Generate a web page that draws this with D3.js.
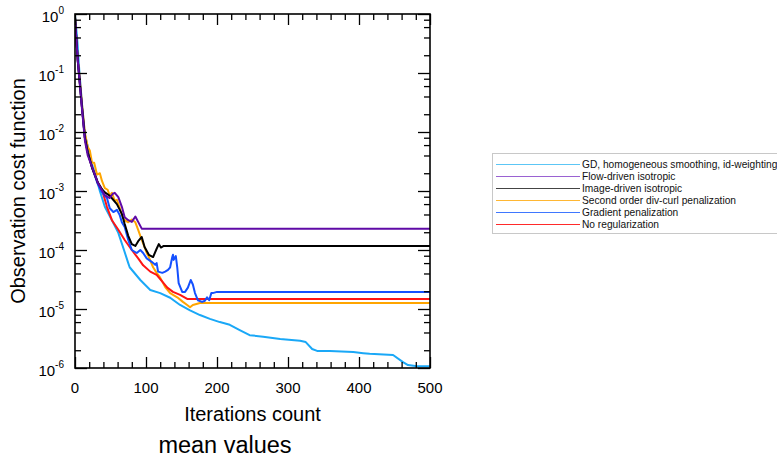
<!DOCTYPE html>
<html><head><meta charset="utf-8">
<script src="https://cdn.jsdelivr.net/npm/d3@7"></script>
<style>
html,body{margin:0;padding:0;background:#fff;}
svg{display:block;}
text{font-family:"Liberation Sans",Arial,sans-serif;}
</style></head>
<body>
<svg id="c" width="777" height="457"></svg>
<script>
// ---- data ----
const seriesNames = [
  "GD, homogeneous smoothing, id-weighting",
  "Flow-driven isotropic",
  "Image-driven isotropic",
  "Second order div-curl penalization",
  "Gradient penalization",
  "No regularization"
];
const seriesColors = ["#1aa8f7","#5f0aa6","#000000","#ffa500","#1450ff","#ff1414"];
const legendColors = ["#5cc6f5","#9a62d2","#444444","#ffb733","#3f77ff","#ff2a2a"];

const gdIter = [0,3,6,10,14,18,24,28,35,42,52,61,69,75,77,92,106,120,134,148,162,176,190,204,218,232,246,265,289,317,325,334,341,359,392,406,415,448,462,469,482,500];
const gdVal  = [0.93,0.40,0.112,0.0282,0.0089,0.0056,0.0028,0.00204,0.001,5.4e-4,3.2e-4,1.95e-4,1e-4,6.0e-5,5.1e-5,3.1e-5,2.1e-5,1.86e-5,1.55e-5,1.17e-5,9.5e-6,7.9e-6,6.8e-6,6.0e-6,5.4e-6,4.4e-6,3.6e-6,3.4e-6,3.1e-6,2.9e-6,2.75e-6,2.1e-6,1.95e-6,1.95e-6,1.86e-6,1.78e-6,1.74e-6,1.66e-6,1.26e-6,1.12e-6,1.07e-6,1.07e-6];

const flowIter = [0,2,4,6,10,14,18,24,32,42,49,53,56,61,66,70,75,80,85,89,94,500];
const flowVal  = [0.79,0.355,0.158,0.085,0.0234,0.0071,0.0040,0.00257,0.00138,8.5e-4,7.6e-4,8.9e-4,9.3e-4,7.9e-4,5.4e-4,3.6e-4,3.2e-4,3.0e-4,3.7e-4,3.0e-4,2.3e-4,2.3e-4];

const imgIter = [0,2,4,6,10,14,18,24,32,38,42,49,59,66,70,75,80,85,89,94,98,104,110,115,118,121,125,500];
const imgVal  = [0.89,0.355,0.158,0.085,0.025,0.0079,0.0045,0.0025,0.0014,0.00107,9.5e-4,8.3e-4,6.0e-4,4.1e-4,2.75e-4,1.74e-4,1.26e-4,1.17e-4,1.41e-4,1.66e-4,1.12e-4,8.3e-5,7.6e-5,1.05e-4,1.26e-4,1.1e-4,1.17e-4,1.17e-4];

const divIter = [0,2,4,6,10,14,18,21,24,27,31,35,38,42,46,49,52,56,59,63,66,70,75,80,85,89,94,98,101,104,110,115,120,127,134,144,152,158,162,166,176,500];
const divVal  = [0.89,0.355,0.166,0.1,0.0282,0.0095,0.0056,0.0048,0.0030,0.0030,0.0019,0.0020,0.00148,0.00112,0.00105,8.3e-4,9.3e-4,6.8e-4,7.1e-4,5.2e-4,3.9e-4,3.2e-4,2.95e-4,3.3e-4,2.95e-4,2.2e-4,1.48e-4,1.12e-4,8.9e-5,7.6e-5,5.1e-5,4.1e-5,3.4e-5,2.35e-5,1.86e-5,1.58e-5,1.32e-5,1.17e-5,1.07e-5,1.17e-5,1.26e-5,1.26e-5];

const gradIter = [0,2,4,6,10,14,18,24,32,38,45,49,54,59,63,66,70,75,80,87,92,96,101,108,113,115,117,123,127,131,134,137,138,139,142,144,146,151,155,159,163,166,169,173,179,183,186,189,192,194,200,500];
const gradVal  = [0.89,0.355,0.158,0.089,0.025,0.0079,0.0045,0.0025,0.00132,9.5e-4,7.6e-4,5.1e-4,4.4e-4,4.8e-4,3.9e-4,2.95e-4,2.45e-4,1.48e-4,1e-4,8.9e-5,1e-4,8.9e-5,7.2e-5,6.3e-5,5.6e-5,6.0e-5,4.3e-5,4.1e-5,4.3e-5,4.6e-5,5.1e-5,7.6e-5,8.3e-5,6.8e-5,7.9e-5,5.1e-5,2.75e-5,1.95e-5,1.95e-5,2.3e-5,3.1e-5,2.6e-5,1.86e-5,1.41e-5,1.32e-5,1.38e-5,1.58e-5,1.41e-5,1.86e-5,1.86e-5,1.95e-5,1.95e-5];

const noregIter = [0,2,4,6,10,14,18,24,32,38,45,52,61,70,80,89,96,106,115,123,130,138,148,158,500];
const noregVal  = [0.89,0.355,0.158,0.089,0.025,0.0079,0.0045,0.0025,0.0014,0.00105,5.4e-4,3.2e-4,2.2e-4,1.48e-4,1e-4,7.2e-5,5.5e-5,4.3e-5,3.8e-5,2.9e-5,2.3e-5,1.95e-5,1.74e-5,1.48e-5,1.48e-5];

const xTickValues = [0,100,200,300,400,500];
const yTickExponents = [0,-1,-2,-3,-4,-5,-6];
const xTitle = "Iterations count";
const yTitle = "Observation cost function";
const caption = "mean values";

// ---- layout ----
const L = 75, T = 14, W = 355, H = 354;
const svg = d3.select("#c");
const x = d3.scaleLinear().domain([0,500]).range([L, L+W]);
const y = d3.scaleLog().domain([1e-6,1]).range([T+H, T]);

const series = seriesNames.map((n,i)=>({name:n, color:seriesColors[i], lcolor:legendColors[i]}));
series[0].it = gdIter;   series[0].v = gdVal;
series[1].it = flowIter; series[1].v = flowVal;
series[2].it = imgIter;  series[2].v = imgVal;
series[3].it = divIter;  series[3].v = divVal;
series[4].it = gradIter; series[4].v = gradVal;
series[5].it = noregIter;series[5].v = noregVal;
const drawOrder = [0,3,5,4,2,1];

svg.append("clipPath").attr("id","clip").append("rect")
  .attr("x",L).attr("y",T).attr("width",W).attr("height",H);

const line = d3.line().x(d=>x(d[0])).y(d=>y(d[1]));
const g = svg.append("g").attr("clip-path","url(#clip)");
drawOrder.forEach(i=>{
  const s = series[i];
  g.append("path").datum(s.it.map((t,k)=>[t,s.v[k]]))
    .attr("d",line).attr("fill","none").attr("stroke",s.color)
    .attr("stroke-width",2).attr("stroke-linejoin","round");
});

// ---- axes ----
const xMinor = d3.range(0,501,20);
const yMinor = [];
yTickExponents.forEach(e=>{ if(e>-6){ [2,4,6,8].forEach(m=>yMinor.push(m*Math.pow(10,e-1))); } });
const yMajor = yTickExponents.map(e=>Math.pow(10,e));

function isMajorX(d){ return xTickValues.includes(d); }

const axBottom = svg.append("g").attr("transform",`translate(0,${T+H})`)
  .call(d3.axisBottom(x).tickValues(xMinor).tickSizeOuter(0).tickFormat(""));
axBottom.selectAll(".tick line").attr("y2", d=>isMajorX(d)?-11:-6);
axBottom.select(".domain").remove();

const axTop = svg.append("g").attr("transform",`translate(0,${T})`)
  .call(d3.axisTop(x).tickValues(xMinor).tickSizeOuter(0).tickFormat(""));
axTop.selectAll(".tick line").attr("y2", d=>isMajorX(d)?11:6);
axTop.select(".domain").remove();

const axLeft = svg.append("g").attr("transform",`translate(${L},0)`)
  .call(d3.axisLeft(y).tickValues(yMajor.concat(yMinor)).tickSizeOuter(0).tickFormat(""));
axLeft.selectAll(".tick line").attr("x2", d=>yMajor.includes(d)?12:6);
axLeft.select(".domain").remove();

const axRight = svg.append("g").attr("transform",`translate(${L+W},0)`)
  .call(d3.axisRight(y).tickValues(yMajor.concat(yMinor)).tickSizeOuter(0).tickFormat(""));
axRight.selectAll(".tick line").attr("x2", d=>yMajor.includes(d)?-12:-6);
axRight.select(".domain").remove();
svg.selectAll(".tick line").attr("stroke","#000").attr("stroke-width",1.3);

// frame
svg.append("rect").attr("x",L).attr("y",T).attr("width",W).attr("height",H)
  .attr("fill","none").attr("stroke","#000").attr("stroke-width",1.6);

// x tick labels
svg.append("g").selectAll("text").data(xTickValues).join("text")
  .attr("x",d=>x(d)).attr("y",T+H+25).attr("text-anchor","middle")
  .attr("font-size",15).text(d=>d);

// y tick labels
const yl = svg.append("g").selectAll("text").data(yTickExponents).join("text")
  .attr("x",L-11).attr("y",d=>y(Math.pow(10,d))+8).attr("text-anchor","end")
  .attr("font-size",15);
yl.append("tspan").text("10");
yl.append("tspan").attr("font-size",10).attr("dy",-8).text(d=>d===0?"0":"-"+Math.abs(d));

// titles
svg.append("text").attr("x",L+W/2).attr("y",421).attr("text-anchor","middle")
  .attr("font-size",20).text(xTitle);
svg.append("text").attr("transform",`translate(25,${T+H/2}) rotate(-90)`)
  .attr("text-anchor","middle").attr("font-size",20).text(yTitle);
svg.append("text").attr("x",225).attr("y",453).attr("text-anchor","middle")
  .attr("font-family","DejaVu Sans").attr("font-size",23.5).text(caption);

// legend
const lg = svg.append("g");
lg.append("rect").attr("x",492.5).attr("y",153.5).attr("width",300).attr("height",80)
  .attr("fill","#fff").attr("stroke","#c8c8c8").attr("stroke-width",1);
series.forEach((s,i)=>{
  const yy = Math.round(164 + i*11.9) + 0.5;
  lg.append("line").attr("x1",496).attr("x2",580).attr("y1",yy).attr("y2",yy)
    .attr("stroke",s.lcolor).attr("stroke-width",1);
  lg.append("text").attr("x",582).attr("y",yy+3.5).attr("font-size",10.2).attr("fill","#111").text(s.name);
});
</script>
</body></html>
